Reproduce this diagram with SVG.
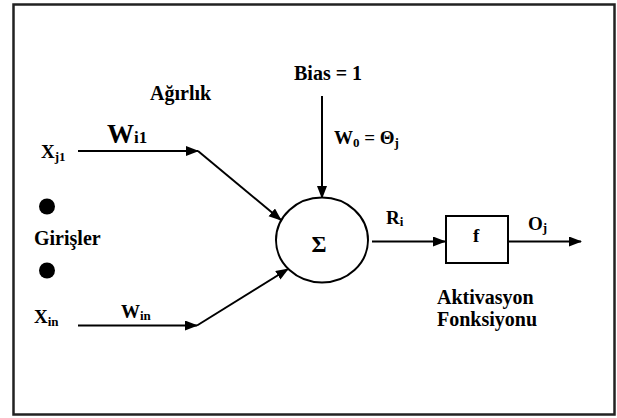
<svg xmlns="http://www.w3.org/2000/svg" width="617" height="418" viewBox="0 0 617 418">
<style>
text{font-family:'Times New Roman','Liberation Serif',Times,serif;font-weight:bold;fill:#000}
.t{font-size:20px}
.l{font-size:19px}
.s{font-size:13px}
.ln{stroke:#000;stroke-width:2;fill:none}
</style>
<defs>
<marker id="ah" markerUnits="userSpaceOnUse" markerWidth="13" markerHeight="11" refX="12" refY="5" orient="auto">
<path d="M0,0 L13,5 L0,10 z" fill="#000"/>
</marker>
</defs>
<rect x="13.5" y="4.5" width="601" height="410" fill="#fff" stroke="#222" stroke-width="2.5"/>
<g id="connectors">
<line class="ln" x1="78" y1="151" x2="198" y2="151" marker-end="url(#ah)"/>
<line class="ln" x1="198" y1="151" x2="281" y2="220" marker-end="url(#ah)"/>
<line class="ln" x1="78" y1="325.5" x2="197" y2="325.5" marker-end="url(#ah)"/>
<line class="ln" x1="197" y1="325.5" x2="288" y2="269" marker-end="url(#ah)"/>
<line class="ln" x1="322" y1="96" x2="322" y2="198" marker-end="url(#ah)"/>
<line class="ln" x1="372" y1="241.5" x2="445" y2="241.5" marker-end="url(#ah)"/>
<line class="ln" x1="508" y1="241.5" x2="581" y2="241.5" marker-end="url(#ah)"/>
</g>
<g id="inputs">
<text class="l" x="41" y="158">X<tspan class="s" dy="3">j1</tspan></text>
<circle cx="47" cy="206.5" r="8" fill="#000"/>
<text class="t" x="34" y="245">Girişler</text>
<circle cx="47" cy="270.5" r="8" fill="#000"/>
<text class="l" x="34" y="323">X<tspan class="s" dy="3">in</tspan></text>
</g>
<g id="weights">
<text class="t" x="150" y="100">Ağırlık</text>
<text x="107" y="143" style="font-size:27px">W<tspan style="font-size:17px">i1</tspan></text>
<text class="l" x="121" y="318">W<tspan class="s" dy="2">in</tspan></text>
</g>
<g id="bias">
<text class="t" x="294" y="80">Bias = 1</text>
<text class="l" x="334" y="144">W<tspan class="s" dy="3">0</tspan><tspan dy="-3"> = Θ</tspan><tspan class="s" dy="3">j</tspan></text>
</g>
<g id="sum">
<ellipse cx="322" cy="240" rx="46" ry="42.5" fill="#fff" stroke="#000" stroke-width="2"/>
<text x="319" y="252" text-anchor="middle" style="font-size:23px">Σ</text>
<text class="l" x="386" y="224">R<tspan class="s" dy="2">i</tspan></text>
</g>
<g id="activation">
<rect x="446" y="216" width="62" height="47" fill="#fff" stroke="#000" stroke-width="2"/>
<text x="473" y="242" style="font-size:19px">f</text>
<text class="l" x="528" y="230">O<tspan class="s" dy="2">j</tspan></text>
<text class="t" x="437" y="304">Aktivasyon</text>
<text class="t" x="437" y="326">Fonksiyonu</text>
</g>
</svg>
